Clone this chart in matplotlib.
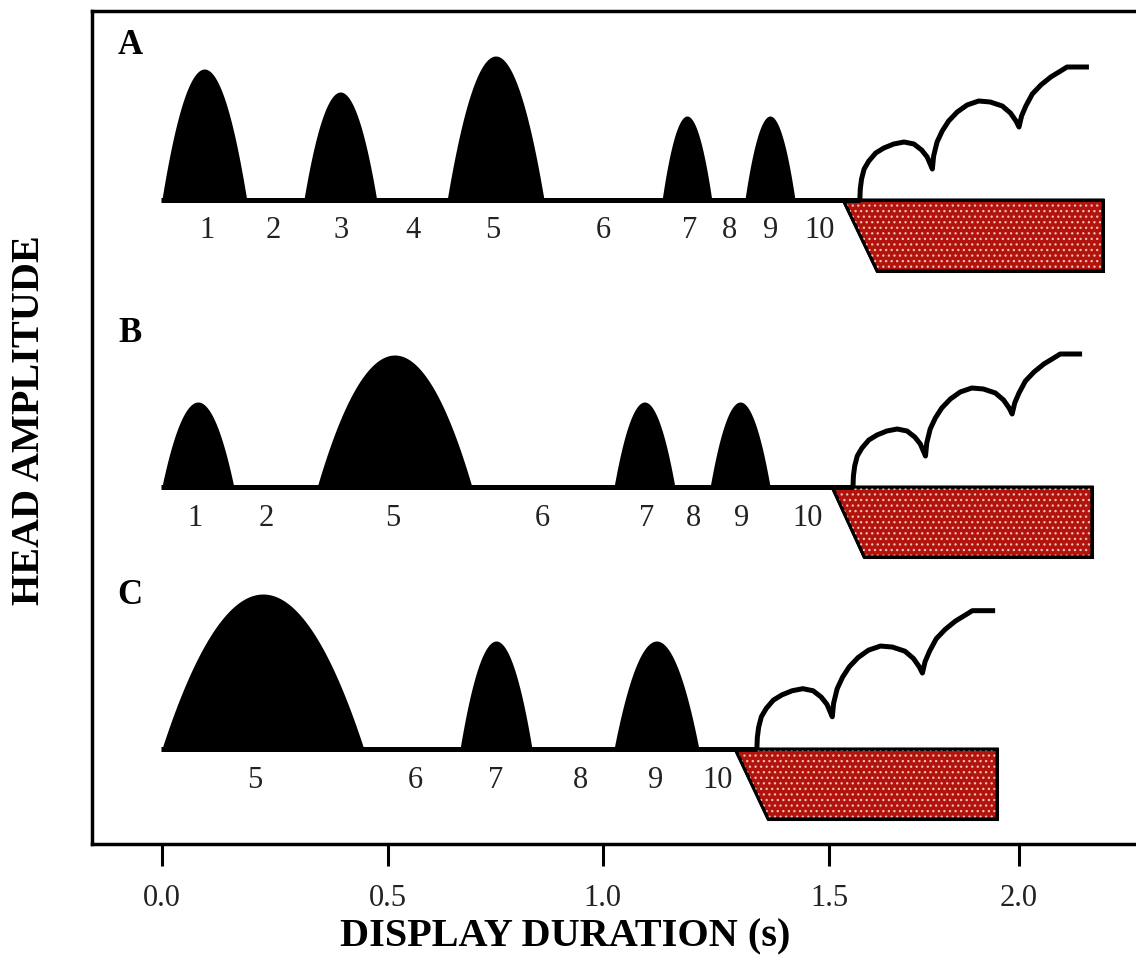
import numpy as np
import matplotlib.pyplot as plt
from matplotlib.patches import Polygon

plt.rcParams['font.family'] = ['Liberation Serif', 'DejaVu Serif']
plt.rcParams['hatch.linewidth'] = 0.9

# panel baselines (arbitrary amplitude units)
panels = ['A', 'B', 'C']
baselines = [6.44, 3.57, 0.95]

# head bobs: start, end (s), peak amplitude
bob_start = [[0.002, 0.333, 0.667, 1.168, 1.361],
             [0.002, 0.364, 1.056, 1.280],
             [0.002, 0.697, 1.056]]
bob_end = [[0.200, 0.503, 0.893, 1.284, 1.478],
           [0.170, 0.725, 1.198, 1.420],
           [0.473, 0.865, 1.254]]
bob_height = [[1.31, 1.08, 1.44, 0.84, 0.84],
              [0.85, 1.32, 0.85, 0.85],
              [1.55, 1.08, 1.08]]

# element labels under each baseline
elem_names = [['1', '2', '3', '4', '5', '6', '7', '8', '9', '10'],
              ['1', '2', '5', '6', '7', '8', '9', '10'],
              ['5', '6', '7', '8', '9', '10']]
elem_pos = [[0.107, 0.261, 0.420, 0.587, 0.774, 1.030, 1.233, 1.326, 1.420, 1.534],
            [0.079, 0.245, 0.541, 0.890, 1.133, 1.242, 1.354, 1.508],
            [0.219, 0.592, 0.781, 0.977, 1.152, 1.298]]

# end of display: baseline end / flight start, red block
flight_start = [1.629, 1.613, 1.389]
flight_scale = [1.0, 1.0, 1.04]
block_left_top = [1.590, 1.564, 1.338]
block_left_bot = [1.669, 1.639, 1.415]
block_right = [2.196, 2.170, 1.949]
block_depth = [0.71, 0.70, 0.70]

# flight trace profile relative to its start
flight_dt = [0, 0.001, 0.004, 0.010, 0.021, 0.037, 0.056, 0.079, 0.103, 0.126, 0.144, 0.157, 0.166, 0.169,
             0.172, 0.180, 0.192, 0.207, 0.227, 0.250, 0.277, 0.304, 0.332, 0.351, 0.364, 0.371,
             0.377, 0.387, 0.402, 0.422, 0.445, 0.468, 0.483, 0.534]
flight_da = [0, 0.11, 0.21, 0.31, 0.39, 0.47, 0.52, 0.56, 0.58, 0.56, 0.50, 0.43, 0.34, 0.31,
             0.44, 0.58, 0.69, 0.79, 0.88, 0.95, 0.99, 0.98, 0.94, 0.87, 0.79, 0.73,
             0.84, 0.94, 1.06, 1.15, 1.23, 1.29, 1.33, 1.33]

tick_pos = [0.002, 0.529, 1.030, 1.557, 2.0]
tick_labels = ['0.0', '0.5', '1.0', '1.5', '2.0']

fig = plt.figure(figsize=(11.36, 9.62), dpi=100)
ax = fig.add_axes([92 / 1136, 1 - 845 / 962, 1053 / 1136, 833 / 962])
ax.set_xlim(-0.1608, 2.2937)
ax.set_ylim(0, 8.33)

for i, p in enumerate(panels):
    b = baselines[i]
    # red block (end of display)
    verts = [(block_left_top[i], b), (block_right[i], b),
             (block_right[i], b - block_depth[i]), (block_left_bot[i], b - block_depth[i])]
    ax.add_patch(Polygon(verts, closed=True, facecolor='#b3130d', edgecolor='black', lw=2.2, zorder=2))
    ax.add_patch(Polygon(verts, closed=True, facecolor='none', edgecolor='#eec2b8', hatch='...', lw=0, zorder=2.5))
    ax.add_patch(Polygon(verts, closed=True, facecolor='none', edgecolor='black', lw=2.2, zorder=2.6))

    # baseline
    ax.plot([0, flight_start[i]], [b, b], color='black', lw=3.6, solid_capstyle='butt', zorder=3)

    # head bobs
    for t0, t1, h in zip(bob_start[i], bob_end[i], bob_height[i]):
        x = np.linspace(t0, t1, 80)
        c = (t0 + t1) / 2
        hw = (t1 - t0) / 2
        y = b + h * (1 - ((x - c) / hw) ** 2)
        ax.fill_between(x, b, y, color='black', lw=0, zorder=3)

    # flight trace
    fx = flight_start[i] + np.array(flight_dt) * flight_scale[i]
    fy = b + np.array(flight_da) * flight_scale[i]
    ax.plot(fx, fy, color='black', lw=3.6, solid_joinstyle='round', solid_capstyle='butt', zorder=3)

    for name, xp in zip(elem_names[i], elem_pos[i]):
        ax.text(xp, b - 0.30, name, ha='center', va='center', fontsize=22, color='#222222')

    ax.text(-0.072, b + 1.55, p, ha='center', va='center', fontsize=25, fontweight='bold')

ax.set_yticks([])
ax.set_xticks(tick_pos)
ax.set_xticklabels(tick_labels, fontsize=22, color='#222222')
ax.tick_params(axis='x', direction='out', length=16, width=2.2, pad=12)
ax.spines['right'].set_visible(False)
for s in ['left', 'top', 'bottom']:
    ax.spines[s].set_linewidth(2.5)

fig.text(565 / 1136, 1 - 937 / 962, 'DISPLAY DURATION (s)', ha='center', va='center',
         fontsize=29, fontweight='bold')
fig.text(30 / 1136, 1 - 420 / 962, 'HEAD AMPLITUDE', ha='center', va='center',
         rotation=90, fontsize=29, fontweight='bold')

fig.savefig('out.png', dpi=100)
